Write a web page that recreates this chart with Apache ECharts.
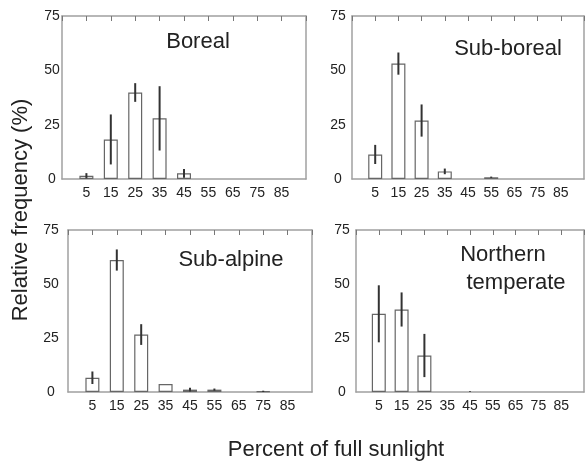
<!DOCTYPE html>
<html>
<head>
<meta charset="utf-8">
<script src="https://cdn.jsdelivr.net/npm/echarts@6/dist/echarts.min.js"></script>
<style>
  html, body { margin: 0; background: #fff; }
  #chart { width: 587px; height: 461px; }
</style>
</head>
<body>
<div id="chart"></div>
<script>
// light classes (% of full sunlight)
const sunlight = [5, 15, 25, 35, 45, 55, 65, 75, 85];

// relative frequency (%) and error per class
const borealFreq = [1.5, 18.2, 39.8, 27.9, 2.6, 0, 0, 0, 0];
const borealErr = [1.2, 11.5, 4.3, 14.8, 2.0, 0, 0, 0, 0];

const subBorealFreq = [11.3, 53.1, 26.9, 3.5, 0, 0.8, 0, 0, 0];
const subBorealErr = [4.4, 5.1, 7.4, 1.3, 0, 0.3, 0, 0, 0];

const subAlpineFreq = [6.6, 61.1, 26.6, 3.7, 1.1, 1.1, 0, 0.3, 0];
const subAlpineErr = [2.9, 4.9, 4.8, 0, 0.9, 0.5, 0, 0.3, 0];

const northTempFreq = [36.2, 38.2, 16.9, 0, 0, 0, 0, 0, 0];
const northTempErr = [13.2, 7.9, 10.0, 0, 0.3, 0, 0, 0, 0];

const FONT = 'Liberation Sans, Arial, sans-serif';

const panels = [
  { freq: borealFreq, err: borealErr, grid: { left: 62, top: 16, width: 244, height: 163 }, yMargin: 10 },
  { freq: subBorealFreq, err: subBorealErr, grid: { left: 352, top: 16, width: 244, height: 163 }, yMargin: 14 },
  { freq: subAlpineFreq, err: subAlpineErr, grid: { left: 68, top: 230, width: 244, height: 162 }, yMargin: 17 },
  { freq: northTempFreq, err: northTempErr, grid: { left: 356, top: 230, width: 246, height: 162 }, yMargin: 14 },
];

const frame = { show: true, onZero: false, lineStyle: { color: '#a0a0a0', width: 1.5 } };

const grid = [];
const xAxis = [];
const yAxis = [];
const series = [];

panels.forEach((p, i) => {
  grid.push(p.grid);
  // bottom axis with labels
  xAxis.push({
    type: 'value', gridIndex: i, position: 'bottom',
    min: -5, max: 95, interval: 10,
    axisLine: frame, axisTick: { show: false }, splitLine: { show: false },
    axisLabel: {
      margin: 7, color: '#222', fontSize: 14, fontFamily: FONT,
      formatter: (v) => (sunlight.includes(v) ? String(v) : ''),
    },
  });
  // top border with inward ticks
  xAxis.push({
    type: 'value', gridIndex: i, position: 'top',
    min: -5, max: 95, interval: 10,
    axisLine: frame,
    axisTick: { show: true, inside: true, length: 5, lineStyle: { color: '#777', width: 1 } },
    axisLabel: { show: false }, splitLine: { show: false },
  });
  yAxis.push({
    type: 'value', gridIndex: i, position: 'left',
    min: 0, max: 75, interval: 25,
    axisLine: frame, axisTick: { show: false }, splitLine: { show: false },
    axisLabel: {
      margin: p.yMargin, align: 'center', color: '#222', fontSize: 14, fontFamily: FONT,
      padding: [4, 0, 0, 0],
    },
  });
  yAxis.push({
    type: 'value', gridIndex: i, position: 'right',
    min: 0, max: 75, interval: 25,
    axisLine: frame, axisTick: { show: false }, splitLine: { show: false },
    axisLabel: { show: false },
  });

  const barData = [];
  const errData = [];
  sunlight.forEach((s, k) => {
    if (p.freq[k] > 0) barData.push([s, p.freq[k]]);
    if (p.err[k] > 0) errData.push([s, Math.max(0, p.freq[k] - p.err[k]), p.freq[k] + p.err[k]]);
  });

  series.push({
    type: 'bar',
    xAxisIndex: i * 2, yAxisIndex: i * 2,
    barWidth: 14,
    data: barData,
    itemStyle: { color: '#fff', borderColor: '#666', borderWidth: 1.2 },
    silent: true,
  });
  series.push({
    type: 'custom',
    xAxisIndex: i * 2, yAxisIndex: i * 2,
    data: errData,
    z: 5,
    renderItem: (params, api) => {
      const a = api.coord([api.value(0), api.value(1)]);
      const b = api.coord([api.value(0), api.value(2)]);
      return {
        type: 'line',
        shape: { x1: a[0], y1: a[1], x2: b[0], y2: b[1] },
        style: { stroke: '#333', lineWidth: 2 },
      };
    },
  });
});

const label = (text, x, y, size, rotation) => ({
  type: 'text', x, y, rotation: rotation || 0,
  style: { text, fill: '#222', font: size + 'px ' + FONT, textAlign: 'center', textVerticalAlign: 'middle' },
});

const option = {
  animation: false,
  grid,
  xAxis,
  yAxis,
  series,
  graphic: [
    label('Boreal', 198, 42, 22),
    label('Sub-boreal', 508, 49, 22),
    label('Sub-alpine', 231, 260, 22),
    label('Northern', 503, 255, 22),
    label('temperate', 516, 283, 22),
    label('Relative frequency (%)', 21, 210, 22, Math.PI / 2),
    label('Percent of full sunlight', 336, 450, 22),
  ],
};

const myChart = echarts.init(document.getElementById('chart'));
myChart.setOption(option);
</script>
</body>
</html>
